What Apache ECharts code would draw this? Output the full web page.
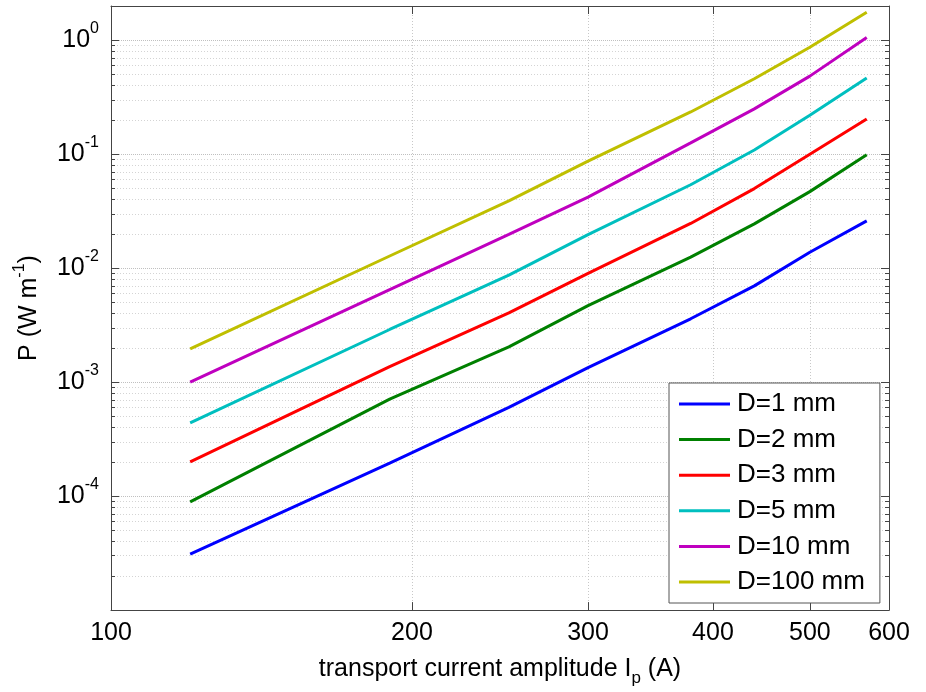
<!DOCTYPE html>
<html>
<head>
<meta charset="utf-8">
<script src="https://cdn.jsdelivr.net/npm/echarts@6/dist/echarts.min.js"></script>
<style>
  html, body { margin: 0; padding: 0; background: #fff; }
  #chart { width: 926px; height: 692px; }
</style>
</head>
<body>
<div id="chart"></div>
<script>
// transport current amplitude (A)
var currents = [120, 190, 250, 300, 380, 440, 500, 570]

// loss P (W/m) per diameter
var lossD1 = [3.1e-5, 1.95e-4, 6.0e-4, 1.34e-3, 3.6e-3, 7.0e-3, 0.0138, 0.026]
var lossD2 = [8.9e-5, 7.1e-4, 2.04e-3, 4.7e-3, 0.0125, 0.0245, 0.047, 0.099]
var lossD3 = [2.0e-4, 1.37e-3, 4.05e-3, 9.0e-3, 0.0247, 0.050, 0.10, 0.204]
var lossD5 = [4.4e-4, 2.9e-3, 8.7e-3, 0.0197, 0.054, 0.109, 0.22, 0.466]
var lossD10 = [1.0e-3, 6.5e-3, 0.0198, 0.042, 0.126, 0.25, 0.485, 1.06]
var lossD100 = [1.96e-3, 0.0128, 0.039, 0.087, 0.235, 0.46, 0.87, 1.76]

var seriesNames = ['D=1 mm', 'D=2 mm', 'D=3 mm', 'D=5 mm', 'D=10 mm', 'D=100 mm']
var seriesColors = ['#0000ff', '#008000', '#ff0000', '#00bfbf', '#bf00bf', '#bfbf00']

var xTicks = [100, 200, 300, 400, 500, 600]
var yDecades = [1e-4, 1e-3, 1e-2, 1e-1, 1]

var allLoss = [lossD1, lossD2, lossD3, lossD5, lossD10, lossD100]

// minor ticks 2..9 x 10^n
var yMinor = []
;[1e-5, 1e-4, 1e-3, 1e-2, 1e-1, 1].forEach(function (d) {
  for (var k = 2; k <= 9; k++) yMinor.push(+(d * k).toPrecision(3))
})

var FONT = 'Liberation Sans'
var frameColor = '#444'

var supLabel = function (v) {
  var e = Math.round(Math.log10(v))
  return '{b|10}{sup|' + e + '}'
}

var logAxisBase = function (extra) {
  var a = {
    type: 'log',
    logBase: 10,
    axisLine: { show: true, onZero: false, lineStyle: { color: frameColor, width: 1 } },
    axisLabel: { show: false },
    axisTick: { show: false },
    splitLine: { show: false },
    minorTick: { show: false },
    minorSplitLine: { show: false }
  }
  for (var k in extra) a[k] = extra[k]
  return a
}

var chart = echarts.init(document.getElementById('chart'), null, { renderer: 'canvas' })

var series = allLoss.map(function (vals, i) {
  return {
    name: seriesNames[i],
    type: 'line',
    xAxisIndex: 0,
    yAxisIndex: 0,
    symbol: 'none',
    smooth: false,
    lineStyle: { color: seriesColors[i], width: 3 },
    itemStyle: { color: seriesColors[i] },
    data: currents.map(function (c, j) { return [c, vals[j]] }),
    z: 3
  }
})

chart.setOption({
  animation: false,
  backgroundColor: '#fff',
  textStyle: { fontFamily: FONT },
  grid: { left: 111, right: 37, top: 6, bottom: 80 },
  legend: {
    orient: 'vertical',
    left: 669,
    top: 383,
    padding: [8, 15, 8, 10],
    icon: 'rect',
    itemWidth: 51,
    itemHeight: 3,
    itemGap: 9.6,
    backgroundColor: '#fff',
    borderColor: '#555',
    borderWidth: 1,
    borderRadius: 0,
    textStyle: { fontFamily: FONT, fontSize: 26, color: '#000', lineHeight: 26, padding: [0, 0, 0, 2] },
    data: seriesNames,
    z: 10
  },
  xAxis: [
    logAxisBase({
      position: 'bottom',
      min: 100,
      max: 600,
      name: 'transport current amplitude I{sub|p} (A)',
      nameLocation: 'middle',
      nameGap: 36,
      nameTextStyle: {
        fontFamily: FONT, fontSize: 25, color: '#000', lineHeight: 36,
        rich: {
          sub: { fontFamily: FONT, fontSize: 17, lineHeight: 17, verticalAlign: 'bottom', color: '#000' }
        }
      },
      axisLabel: {
        show: true, customValues: xTicks, margin: 11,
        fontFamily: FONT, fontSize: 25, color: '#000',
        formatter: function (v) { return String(Math.round(v)) }
      },
      axisTick: { show: true, inside: true, length: 8, customValues: xTicks, lineStyle: { color: frameColor } },
      splitLine: { show: true, lineStyle: { color: '#c8c8c8', type: [1, 2], width: 1 } }
    }),
    logAxisBase({
      position: 'top',
      min: 100,
      max: 600,
      axisTick: { show: true, inside: true, length: 8, customValues: xTicks, lineStyle: { color: frameColor } }
    })
  ],
  yAxis: [
    logAxisBase({
      position: 'left',
      min: 1e-5,
      max: 2,
      name: 'P (W m{sup|-1})',
      nameLocation: 'middle',
      nameGap: 56,
      nameTextStyle: {
        fontFamily: FONT, fontSize: 25, color: '#000', lineHeight: 34,
        rich: {
          sup: { fontFamily: FONT, fontSize: 16, lineHeight: 16, verticalAlign: 'top', color: '#000' }
        }
      },
      axisLabel: {
        show: true, customValues: yDecades, margin: 12,
        formatter: supLabel,
        rich: {
          b: { fontFamily: FONT, fontSize: 25, lineHeight: 40, verticalAlign: 'middle', color: '#000' },
          sup: { fontFamily: FONT, fontSize: 16, lineHeight: 16, verticalAlign: 'top', color: '#000' }
        }
      },
      axisTick: { show: true, inside: true, length: 8, customValues: yDecades, lineStyle: { color: frameColor } },
      splitLine: { show: true, lineStyle: { color: '#c0c0c0', type: [1, 1], width: 1 } }
    }),
    logAxisBase({
      position: 'left',
      min: 1e-5,
      max: 2,
      axisLine: { show: false },
      axisTick: { show: true, inside: true, length: 4, customValues: yMinor, lineStyle: { color: frameColor } },
      splitLine: { show: true, lineStyle: { color: '#d4d4d4', type: [1, 2], width: 1 } }
    }),
    logAxisBase({
      position: 'right',
      min: 1e-5,
      max: 2,
      axisTick: { show: true, inside: true, length: 8, customValues: yDecades, lineStyle: { color: frameColor } }
    }),
    logAxisBase({
      position: 'right',
      min: 1e-5,
      max: 2,
      axisLine: { show: false },
      axisTick: { show: true, inside: true, length: 4, customValues: yMinor, lineStyle: { color: frameColor } }
    })
  ],
  series: series
})
</script>
</body>
</html>
